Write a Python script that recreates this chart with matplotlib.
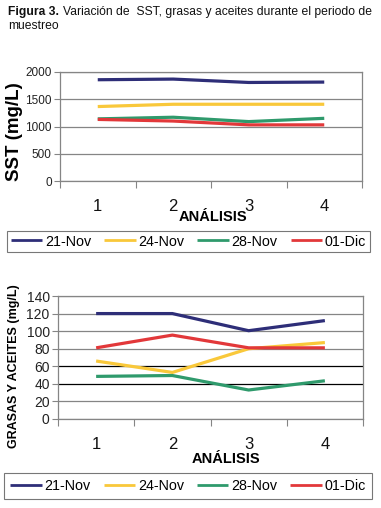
import matplotlib
matplotlib.use("Agg")
import matplotlib.pyplot as plt
from matplotlib import font_manager as fm
from matplotlib.ticker import FixedLocator

# ---------------- data ----------------
analisis = [1, 2, 3, 4]
series_names = ["21-Nov", "24-Nov", "28-Nov", "01-Dic"]
sst_21nov = [1858, 1870, 1808, 1815]
sst_24nov = [1366, 1408, 1408, 1408]
sst_28nov = [1140, 1170, 1090, 1150]
sst_01dic = [1130, 1100, 1030, 1030]
gya_21nov = [120, 120, 100.5, 112]
gya_24nov = [66, 53, 80, 87]
gya_28nov = [48.5, 49.5, 33, 43.5]
gya_01dic = [81, 95.5, 81, 81]
sst_ticks = [0, 500, 1000, 1500, 2000]
gya_ticks = [0, 20, 40, 60, 80, 100, 120, 140]
gya_dark_grid = [40, 60]
caption_bold = "Figura 3."
caption_line1 = "Variación de  SST, grasas y aceites durante el periodo de"
caption_line2 = "muestreo"

colors = ["#2E2E78", "#F9C83A", "#2F9A6C", "#E2383A"]

names = {f.name for f in fm.fontManager.ttflist}
narrow = "Liberation Sans Narrow" if "Liberation Sans Narrow" in names else "Liberation Sans"
plt.rcParams["font.family"] = ["Liberation Sans", "DejaVu Sans"]

W, H = 381, 508
fig = plt.figure(figsize=(W / 100, H / 100), dpi=100)
fig.patch.set_facecolor("white")

GRAY = "#858585"


def style_axes(ax, ticks, ylim, tick_fs):
    ax.set_xlim(0.5, 4.5)
    ax.set_ylim(*ylim)
    for s in ax.spines.values():
        s.set_color(GRAY)
        s.set_linewidth(0.9)
    ax.set_yticks(ticks)
    ax.set_yticklabels([str(t) for t in ticks], fontsize=tick_fs, color="#222222")
    ax.tick_params(axis="y", length=4, width=0.8, color=GRAY, pad=2)
    ax.set_xticks(analisis)
    ax.set_xticklabels([str(a) for a in analisis], fontsize=12, color="#111111")
    ax.tick_params(axis="x", which="major", length=0, pad=13)
    ax.xaxis.set_minor_locator(FixedLocator([0.5, 1.5, 2.5, 3.5, 4.5]))
    ax.tick_params(axis="x", which="minor", length=5, width=0.8, color=GRAY)
    ax.yaxis.grid(True, color=GRAY, linewidth=0.9)
    ax.set_axisbelow(True)


# ---------------- top chart ----------------
ax1 = fig.add_axes([60 / W, 1 - 181 / H, 302 / W, 109 / H])
style_axes(ax1, sst_ticks, (0, 2000), 8.5)
for vals, c in zip([sst_21nov, sst_24nov, sst_28nov, sst_01dic], colors):
    ax1.plot(analisis, vals, color=c, lw=2.3, solid_capstyle="butt")
fig.text(15 / W, 1 - 132 / H, "SST (mg/L)", rotation=90, fontsize=13.5,
         fontweight="bold", ha="center", va="center")
fig.text(213 / W, 1 - 217 / H, "ANÁLISIS", fontsize=10.5, fontweight="bold",
         ha="center", va="center")

leg1 = fig.legend(series_names, loc="center", bbox_to_anchor=(188.5 / W, 1 - 241.5 / H),
                  ncol=4, fontsize=10.3, frameon=True, fancybox=False,
                  handlelength=2.2, handletextpad=0.2, columnspacing=0.9,
                  borderpad=0.25, borderaxespad=0)
for h, c in zip(leg1.get_lines(), colors):
    h.set_color(c)
    h.set_linewidth(2)
leg1.get_frame().set_edgecolor("#555555")
leg1.get_frame().set_linewidth(0.8)

# ---------------- bottom chart ----------------
ax2 = fig.add_axes([58 / W, 1 - 419 / H, 305 / W, 123 / H])
style_axes(ax2, gya_ticks, (0, 140), 10)
for gl, t in zip(ax2.get_ygridlines(), gya_ticks):
    if t in gya_dark_grid:
        gl.set_color("black")
for vals, c in zip([gya_21nov, gya_24nov, gya_28nov, gya_01dic], colors):
    ax2.plot(analisis, vals, color=c, lw=2.3, solid_capstyle="butt")
fig.text(14 / W, 1 - 366 / H, "GRASAS Y ACEITES (mg/L)", rotation=90, fontsize=9,
         fontweight="bold", ha="center", va="center")
fig.text(226 / W, 1 - 459 / H, "ANÁLISIS", fontsize=10.5, fontweight="bold",
         ha="center", va="center")

leg2 = fig.legend(series_names, loc="center", bbox_to_anchor=(188 / W, 1 - 486 / H),
                  ncol=4, fontsize=10.3, frameon=True, fancybox=False,
                  handlelength=2.2, handletextpad=0.2, columnspacing=0.9,
                  borderpad=0.45, borderaxespad=0)
for h, c in zip(leg2.get_lines(), colors):
    h.set_color(c)
    h.set_linewidth(2)
leg2.get_frame().set_edgecolor("#555555")
leg2.get_frame().set_linewidth(0.8)

# ---------------- caption (fit to line width) ----------------
x0, x_end = 8, 372
fs = 9.5
fig.canvas.draw()
r = fig.canvas.get_renderer()
for _ in range(4):
    tb = fig.text(0, 0, caption_bold, fontsize=fs, fontweight="bold")
    tr = fig.text(0, 0, caption_line1, fontsize=fs)
    wb = tb.get_window_extent(r).width
    wr = tr.get_window_extent(r).width
    tb.remove()
    tr.remove()
    total = wb + 4 + wr
    fs = fs * (x_end - x0) / total
tb = fig.text(x0 / W, 1 - 12 / H, caption_bold, fontsize=fs, fontweight="bold",
              va="center", ha="left", color="#111111")
wb = tb.get_window_extent(r).width
fig.text((x0 + wb + 4) / W, 1 - 12 / H, caption_line1, fontsize=fs,
         va="center", ha="left", color="#111111")
fig.text(x0 / W, 1 - 26 / H, caption_line2, fontsize=fs,
         va="center", ha="left", color="#111111")

fig.savefig("out.png", dpi=100, facecolor="white")
